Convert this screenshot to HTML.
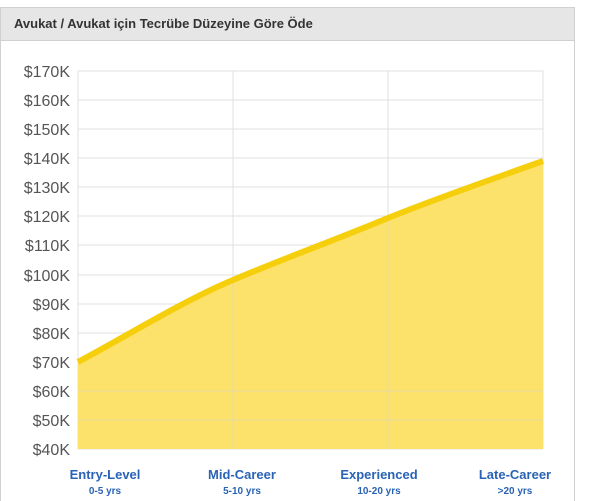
<!DOCTYPE html>
<html><head><meta charset="utf-8"><style>
body{margin:0;background:#fff;width:605px;height:501px;overflow:hidden;font-family:"Liberation Sans",sans-serif}
</style></head><body>
<svg width="605" height="501" xmlns="http://www.w3.org/2000/svg" style="position:absolute;left:0;top:0">
<rect x="0.5" y="7.5" width="574" height="500" fill="#fff" stroke="#d0d0d0"/>
<rect x="1" y="8" width="573" height="32" fill="#e6e6e6"/>
<line x1="1" y1="40.5" x2="574" y2="40.5" stroke="#d0d0d0"/>
<text x="14" y="28" font-size="13" font-weight="bold" fill="#333">Avukat / Avukat için Tecrübe Düzeyine Göre Öde</text>
<g stroke="#e0e0e0" stroke-width="1">
<line x1="78" y1="71" x2="543" y2="71"/><line x1="78" y1="100" x2="543" y2="100"/><line x1="78" y1="129" x2="543" y2="129"/><line x1="78" y1="158" x2="543" y2="158"/><line x1="78" y1="187" x2="543" y2="187"/><line x1="78" y1="216" x2="543" y2="216"/><line x1="78" y1="245" x2="543" y2="245"/><line x1="78" y1="275" x2="543" y2="275"/><line x1="78" y1="304" x2="543" y2="304"/><line x1="78" y1="333" x2="543" y2="333"/><line x1="78" y1="362" x2="543" y2="362"/><line x1="78" y1="391" x2="543" y2="391"/><line x1="78" y1="420" x2="543" y2="420"/><line x1="78" y1="449" x2="543" y2="449"/>
<line x1="78" y1="71" x2="78" y2="449"/><line x1="233" y1="71" x2="233" y2="449"/><line x1="388" y1="71" x2="388" y2="449"/><line x1="543" y1="71" x2="543" y2="449"/>
</g>
<path d="M78,362 C130,334 185,300 233,280 C285,258 335,240 388,218 C440,197 490,180 543,161 L543,449 L78,449 Z" fill="#fce26a"/>
<g stroke="#d4d4d4" stroke-opacity="0.5"><line x1="233" y1="280" x2="233" y2="449"/><line x1="388" y1="218" x2="388" y2="449"/><line x1="78" y1="391" x2="543" y2="391"/><line x1="78" y1="420" x2="543" y2="420"/></g>
<path d="M78,362 C130,334 185,300 233,280 C285,258 335,240 388,218 C440,197 490,180 543,161" fill="none" stroke="#f6cf0c" stroke-width="6"/>
<g font-size="16" fill="#555" text-anchor="end">
<text x="70" y="77">$170K</text><text x="70" y="106">$160K</text><text x="70" y="135">$150K</text><text x="70" y="164">$140K</text><text x="70" y="193">$130K</text><text x="70" y="222">$120K</text><text x="70" y="251">$110K</text><text x="70" y="281">$100K</text><text x="70" y="310">$90K</text><text x="70" y="339">$80K</text><text x="70" y="368">$70K</text><text x="70" y="397">$60K</text><text x="70" y="426">$50K</text><text x="70" y="455">$40K</text>
</g>
<g fill="#2a63b5" font-weight="bold" text-anchor="middle">
<text x="105" y="479" font-size="13">Entry-Level</text><text x="105" y="494" font-size="10">0-5 yrs</text>
<text x="242" y="479" font-size="13">Mid-Career</text><text x="242" y="494" font-size="10">5-10 yrs</text>
<text x="379" y="479" font-size="13">Experienced</text><text x="379" y="494" font-size="10">10-20 yrs</text>
<text x="515" y="479" font-size="13">Late-Career</text><text x="515" y="494" font-size="10">&gt;20 yrs</text>
</g>
</svg>
</body></html>
